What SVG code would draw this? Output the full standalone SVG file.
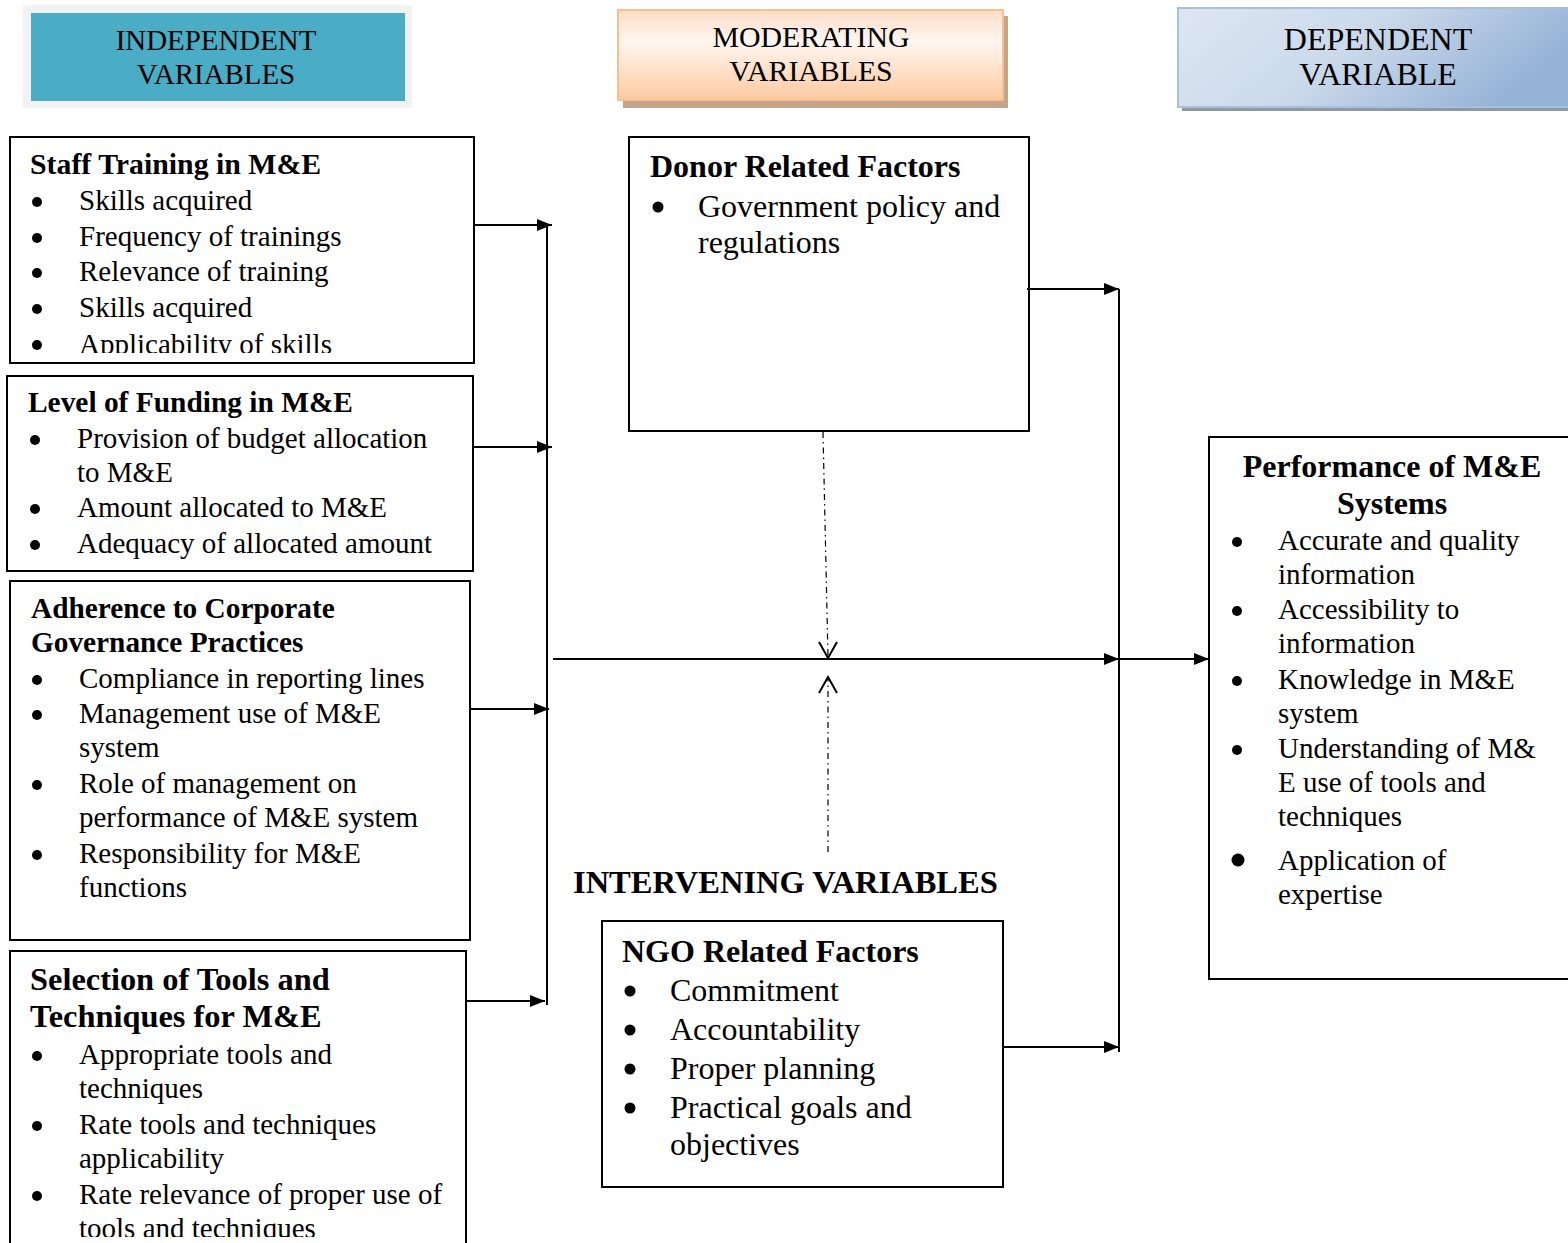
<svg xmlns="http://www.w3.org/2000/svg" width="1568" height="1243" viewBox="0 0 1568 1243">
<style>
.box{fill:#fff;stroke:#000;stroke-width:2}
.t{font-family:"Liberation Serif","Times New Roman",serif;font-size:29px;fill:#000}
.b{font-weight:bold}
.L{font-size:32px}
.h{font-family:"Liberation Serif","Times New Roman",serif;fill:#000;text-anchor:middle}
.c{stroke:#000;stroke-width:2;fill:none}
.d{stroke:#000;stroke-width:1.2;fill:none;stroke-dasharray:6 4 1.5 4}
</style>
<defs>
<marker id="ah" markerUnits="userSpaceOnUse" markerWidth="15" markerHeight="12" refX="15" refY="6" orient="auto">
<path d="M0,0 L15,6 L0,12 z" fill="#000"/>
</marker>
<linearGradient id="gm" x1="0" y1="0" x2="0" y2="1">
<stop offset="0" stop-color="#fbdcc4"/>
<stop offset="0.35" stop-color="#fff6f0"/>
<stop offset="1" stop-color="#fbcaa0"/>
</linearGradient>
<linearGradient id="gd" x1="0" y1="0" x2="1" y2="0.3">
<stop offset="0" stop-color="#dde7f2"/>
<stop offset="0.5" stop-color="#cbd9ea"/>
<stop offset="1" stop-color="#95b3d7"/>
</linearGradient>
<clipPath id="cp1"><rect x="11" y="138" width="462" height="215"/></clipPath>
<clipPath id="cp4"><rect x="11" y="952" width="454" height="285"/></clipPath>
</defs>

<g id="hdr-independent">
<rect x="23" y="5" width="389" height="103" fill="#f2f2f2"/>
<rect x="31" y="13" width="374" height="88" fill="#4bacc6"/>
<text class="h" x="216" y="50" font-size="28.9">INDEPENDENT</text>
<text class="h" x="216" y="84" font-size="28.9">VARIABLES</text>
</g>

<g id="hdr-moderating">
<rect x="623" y="16" width="385" height="92" fill="#c4a58c"/>
<rect x="618" y="10" width="385" height="90" fill="url(#gm)" stroke="#f9bf8f" stroke-width="2"/>
<text class="h" x="811" y="47" font-size="29.8">MODERATING</text>
<text class="h" x="811" y="81" font-size="29.8">VARIABLES</text>
</g>

<g id="hdr-dependent">
<rect x="1182" y="13" width="400" height="98" fill="#8e99a6"/>
<rect x="1178" y="8" width="400" height="99" fill="url(#gd)" stroke="#a9c0dd" stroke-width="2"/>
<text class="h" x="1378" y="50" font-size="32">DEPENDENT</text>
<text class="h" x="1378" y="85" font-size="32">VARIABLE</text>
</g>

<g id="staff-training">
<rect class="box" x="10" y="137" width="464" height="226"/>
<g clip-path="url(#cp1)">
<text class="t b" x="30" y="174" style="font-size:29.8px">Staff Training in M&amp;E</text>
<circle cx="37" cy="202" r="5"/><text class="t" x="79" y="210">Skills acquired</text>
<circle cx="37" cy="238" r="5"/><text class="t" x="79" y="246">Frequency of trainings</text>
<circle cx="37" cy="273" r="5"/><text class="t" x="79" y="281">Relevance of training</text>
<circle cx="37" cy="309" r="5"/><text class="t" x="79" y="317">Skills acquired</text>
<circle cx="37" cy="345" r="5"/><text class="t" x="79" y="354">Applicability of skills</text>
</g>
</g>

<g id="level-of-funding">
<rect class="box" x="7" y="376" width="466" height="195"/>
<text class="t b" x="28" y="412" style="font-size:29.4px">Level of Funding in M&amp;E</text>
<circle cx="35" cy="440" r="5"/><text class="t" x="77" y="448">Provision of budget allocation</text>
<text class="t" x="77" y="482">to M&amp;E</text>
<circle cx="35" cy="509" r="5"/><text class="t" x="77" y="517">Amount allocated to M&amp;E</text>
<circle cx="35" cy="545" r="5"/><text class="t" x="77" y="553">Adequacy of allocated amount</text>
</g>

<g id="adherence">
<rect class="box" x="10" y="581" width="460" height="359"/>
<text class="t b" x="31" y="618" style="font-size:29.3px">Adherence to Corporate</text>
<text class="t b" x="31" y="652" style="font-size:29.3px">Governance Practices</text>
<circle cx="37" cy="680" r="5"/><text class="t" x="79" y="688">Compliance in reporting lines</text>
<circle cx="37" cy="715" r="5"/><text class="t" x="79" y="723">Management use of M&amp;E</text>
<text class="t" x="79" y="757">system</text>
<circle cx="37" cy="785" r="5"/><text class="t" x="79" y="793">Role of management on</text>
<text class="t" x="79" y="827">performance of M&amp;E system</text>
<circle cx="37" cy="855" r="5"/><text class="t" x="79" y="863">Responsibility for M&amp;E</text>
<text class="t" x="79" y="897">functions</text>
</g>

<g id="selection-tools">
<rect class="box" x="10" y="951" width="456" height="310"/>
<g clip-path="url(#cp4)">
<text class="t b" x="30" y="990" style="font-size:32.4px">Selection of Tools and</text>
<text class="t b" x="30" y="1027" style="font-size:32.4px">Techniques for M&amp;E</text>
<circle cx="37" cy="1056" r="5"/><text class="t" x="79" y="1064">Appropriate tools and</text>
<text class="t" x="79" y="1098">techniques</text>
<circle cx="37" cy="1126" r="5"/><text class="t" x="79" y="1134">Rate tools and techniques</text>
<text class="t" x="79" y="1168">applicability</text>
<circle cx="37" cy="1196" r="5"/><text class="t" x="79" y="1204">Rate relevance of proper use of</text>
<text class="t" x="79" y="1238">tools and techniques</text>
</g>
</g>

<g id="donor-factors">
<rect class="box" x="629" y="137" width="400" height="294"/>
<text class="t b L" x="650" y="177">Donor Related Factors</text>
<circle cx="658" cy="207" r="5.5"/><text class="t L" x="698" y="217">Government policy and</text>
<text class="t L" x="698" y="253">regulations</text>
</g>

<g id="intervening-label">
<text class="t b" x="573" y="893" style="font-size:32.5px">INTERVENING VARIABLES</text>
</g>

<g id="ngo-factors">
<rect class="box" x="602" y="921" width="401" height="266"/>
<text class="t b L" x="622" y="962">NGO Related Factors</text>
<circle cx="630" cy="991" r="5.5"/><text class="t L" x="670" y="1001">Commitment</text>
<circle cx="630" cy="1030" r="5.5"/><text class="t L" x="670" y="1040">Accountability</text>
<circle cx="630" cy="1069" r="5.5"/><text class="t L" x="670" y="1079">Proper planning</text>
<circle cx="630" cy="1108" r="5.5"/><text class="t L" x="670" y="1118">Practical goals and</text>
<text class="t L" x="670" y="1155">objectives</text>
</g>

<g id="performance">
<rect class="box" x="1209" y="437" width="380" height="542"/>
<text class="t b L" x="1392" y="477" text-anchor="middle">Performance of M&amp;E</text>
<text class="t b L" x="1392" y="514" text-anchor="middle">Systems</text>
<circle cx="1237" cy="542" r="5"/><text class="t" x="1278" y="550">Accurate and quality</text>
<text class="t" x="1278" y="584">information</text>
<circle cx="1237" cy="611" r="5"/><text class="t" x="1278" y="619">Accessibility to</text>
<text class="t" x="1278" y="653">information</text>
<circle cx="1237" cy="681" r="5"/><text class="t" x="1278" y="689">Knowledge in M&amp;E</text>
<text class="t" x="1278" y="723">system</text>
<circle cx="1237" cy="750" r="5"/><text class="t" x="1278" y="758">Understanding of M&amp;</text>
<text class="t" x="1278" y="792">E use of tools and</text>
<text class="t" x="1278" y="826">techniques</text>
<circle cx="1238" cy="860" r="6.5"/><text class="t" x="1278" y="870">Application of</text>
<text class="t" x="1278" y="904">expertise</text>
</g>

<g id="connectors">
<path class="c" d="M475,225 H552" marker-end="url(#ah)"/>
<path class="c" d="M474,447 H552" marker-end="url(#ah)"/>
<path class="c" d="M471,709 H549" marker-end="url(#ah)"/>
<path class="c" d="M467,1001 H545" marker-end="url(#ah)"/>
<path class="c" d="M547,225 V1005"/>
<path class="c" d="M553,659 H1119" marker-end="url(#ah)"/>
<path class="c" d="M1119,659 H1209" marker-end="url(#ah)"/>
<path class="c" d="M1119,289 V1052"/>
<path class="c" d="M1027,289 H1119" marker-end="url(#ah)"/>
<path class="c" d="M1003,1047 H1119" marker-end="url(#ah)"/>
<path class="d" d="M823,432 L828,657"/>
<polyline class="c" points="819,642 828,658 837,642" stroke-width="1.5"/>
<path class="d" d="M828,852 L828,679"/>
<polyline class="c" points="819,693 828,677 837,693" stroke-width="1.5"/>
</g>
</svg>
